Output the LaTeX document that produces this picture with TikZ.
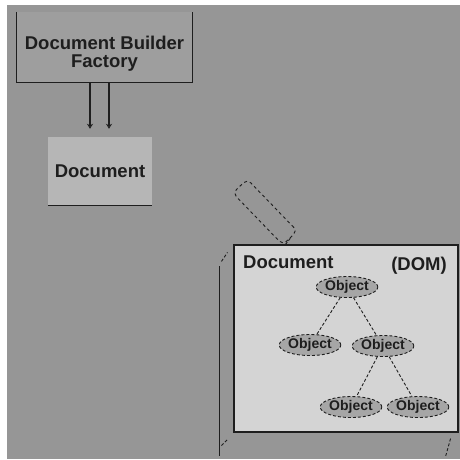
\documentclass[tikz,border=0pt]{standalone}
\usepackage{fontspec}
\setmainfont{Liberation Sans}
\usepackage{xcolor}
\usetikzlibrary{shapes.geometric,arrows.meta,positioning}
\definecolor{scanbg}{RGB}{150,150,150}
\definecolor{factoryfill}{RGB}{158,158,158}
\definecolor{docfill}{RGB}{182,182,182}
\definecolor{domfill}{RGB}{212,212,212}
\definecolor{objfill}{RGB}{166,166,166}
\definecolor{ink}{RGB}{30,30,30}
\tikzset{
  factory/.style={rectangle, fill=factoryfill, minimum width=175pt,
                  minimum height=70pt, inner sep=0pt},
  label text/.style={inner sep=0pt, align=center,
                  font=\fontsize{18.5}{18}\selectfont\bfseries, text=ink},
  docbox/.style={rectangle, fill=docfill, minimum width=104pt,
                 minimum height=68pt, inner sep=0pt,
                 font=\fontsize{18.5}{20}\selectfont\bfseries, text=ink},
  dombox/.style={rectangle, fill=domfill, draw=ink, line width=1.1pt,
                 minimum width=224pt, minimum height=187pt, inner sep=0pt},
  tag/.style={inner sep=0pt, font=\fontsize{18.5}{20}\selectfont\bfseries, text=ink},
  object/.style={ellipse, fill=objfill, draw=ink, densely dashed, line width=0.9pt,
                 minimum width=60pt, minimum height=21pt, inner sep=0pt,
                 font=\fontsize{14}{14}\selectfont\bfseries, text=ink},
  branch/.style={ink, densely dashed, line width=0.9pt},
  make/.style={ink, line width=1.1pt, -{Stealth[length=5pt,width=6pt,open]}},
  parsing/.style={rectangle, rounded corners=5pt, draw=ink, dashed, line width=0.9pt,
                  minimum width=72pt, minimum height=20pt, rotate=-46},
  marker/.style={ink, line width=1pt},
}
\begin{document}
\begin{tikzpicture}[x=1pt, y=-1pt]
\useasboundingbox (0,0) rectangle (460,459);
\fill[scanbg] (7,5) rectangle (460,459);

% builder and the document it makes
\node[factory] (dbf) at (104.5,47) {};
\draw[ink, line width=1.1pt] (dbf.north west) |- (dbf.south east) -- (dbf.north east);
\node[label text] (dbfname) at ([yshift=-7pt]dbf.center) {Document Builder\\Factory};

\node[docbox] (doc) at (100,171) {Document};
\draw[ink, line width=1.1pt] (doc.south west) -- (doc.south east);

\draw[make] ([xshift=-14.5pt]dbf.south) -- ([xshift=-10pt,yshift=8pt]doc.north);
\draw[make] ([xshift=4.5pt]dbf.south) -- ([xshift=9pt,yshift=8pt]doc.north);

% parse step
\node[parsing] (parse) at (265,212) {};

% the DOM tree
\node[dombox] (dom) at (346,338.5) {};
\node[tag, anchor=west] (domname) at (243,262) {Document};
\node[tag, anchor=east] (domtag) at (447,266) {(DOM)};

\draw[branch] (parse.east) -- ([xshift=52pt]dom.north west);

\node[object] (root) at (347,287) {Object};
\node[object] (left) at (310,345) {Object};
\node[object] (right) at (383,346) {Object};
\node[object] (leafa) at (351,407) {Object};
\node[object] (leafb) at (418,407) {Object};

\draw[branch] (root) -- (left);
\draw[branch] (root) -- (right);
\draw[branch] (right) -- (leafa);
\draw[branch] (right) -- (leafb);

% extent marker left of the DOM box
\coordinate (mtop) at ([xshift=-14pt,yshift=-22pt]dom.north west);
\coordinate (mbot) at ([xshift=-14pt,yshift=-23pt]dom.south west);
\draw[marker] (mtop) -- (mbot);
\draw[branch] ([xshift=2pt,yshift=5pt]mtop) -- ++(6pt,9pt);
\draw[branch] ([xshift=2pt,yshift=10pt]mbot) -- ++(6pt,6pt);
\draw[branch] ([xshift=-8pt,yshift=-6pt]dom.south east) -- ++(-5pt,-18pt);
\end{tikzpicture}
\end{document}
